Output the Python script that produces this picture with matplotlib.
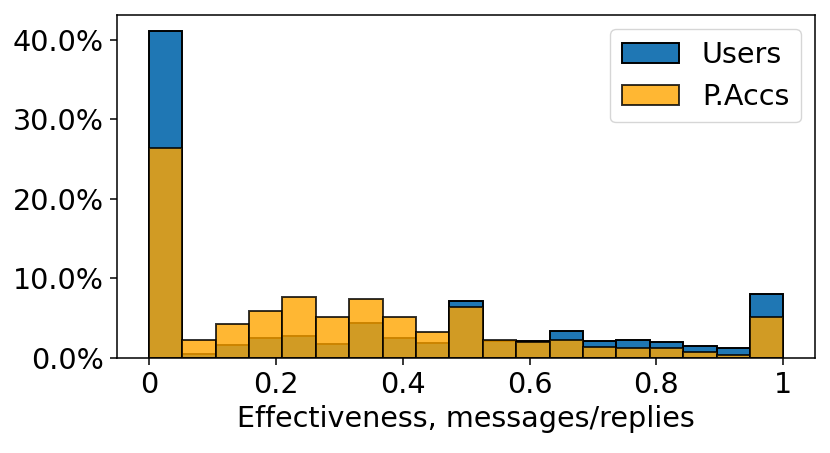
import numpy as np
import matplotlib
matplotlib.use('Agg')
import matplotlib.pyplot as plt
from matplotlib.ticker import PercentFormatter

# Histogram values (percent per bin), 19 bins over [0, 1]
n_bins = 19
users = [41.1, 0.5, 1.6, 2.55, 2.7, 1.7, 4.4, 2.55, 1.85, 7.2,
         2.1, 2.1, 3.4, 2.15, 2.3, 2.0, 1.5, 1.2, 8.0]
paccs = [26.4, 2.2, 4.3, 5.9, 7.6, 5.1, 7.4, 5.15, 3.2, 6.4,
         2.3, 2.05, 2.3, 1.4, 1.25, 1.2, 0.8, 0.4, 5.2]
xtick_vals = [0, 0.2, 0.4, 0.6, 0.8, 1]
xtick_labels = ['0', '0.2', '0.4', '0.6', '0.8', '1']

edges = np.linspace(0, 1, n_bins + 1)
centers = (edges[:-1] + edges[1:]) / 2

plt.rcParams['font.size'] = 20.6
plt.rcParams['axes.linewidth'] = 1.1
for a in ('xtick', 'ytick'):
    plt.rcParams[a + '.major.size'] = 4.8
    plt.rcParams[a + '.major.width'] = 1.1
    plt.rcParams[a + '.major.pad'] = 4.8

fig, ax = plt.subplots(figsize=(8.3, 4.53), dpi=100)
ax.hist(centers, bins=edges, weights=users, color='#1f77b4',
        edgecolor='black', linewidth=1.4, label='Users')
ax.hist(centers, bins=edges, weights=paccs, color='orange', alpha=0.8,
        edgecolor='black', linewidth=1.4, label='P.Accs')

ax.yaxis.set_major_formatter(PercentFormatter(decimals=1))
ax.set_yticks([0, 10, 20, 30, 40])
ax.set_xticks(xtick_vals)
ax.set_xticklabels(xtick_labels)
ax.set_xlabel('Effectiveness, messages/replies')
ax.legend(loc='upper right')

fig.subplots_adjust(left=0.141, right=0.982, top=0.967, bottom=0.21)
fig.savefig('out.png')
